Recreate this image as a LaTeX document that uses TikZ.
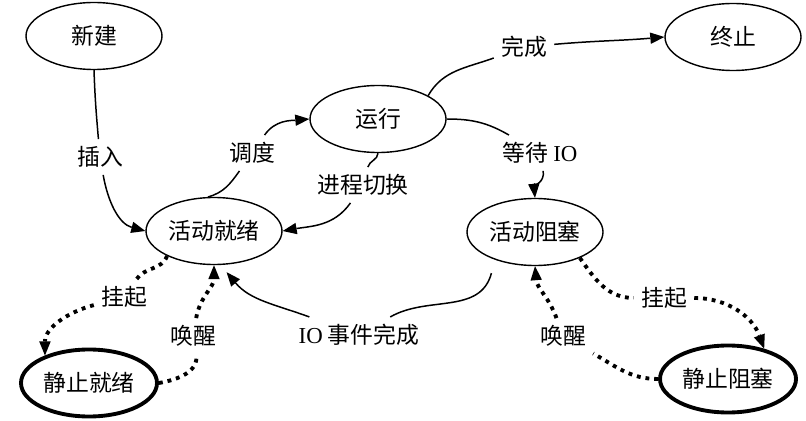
\documentclass[tikz,border=0pt]{standalone}
\usepackage{fontspec}
\setmainfont{Liberation Serif}
\newfontfamily\cjk{Noto Sans CJK SC}
\usetikzlibrary{shapes.geometric, arrows.meta}
\tikzstyle{stateBox} = [shape=ellipse, draw=black, text=black, line width=0.8pt,
	align=center, fill=white, inner sep=0pt, font=\fontsize{13}{15}\selectfont\cjk]
\tikzstyle{StateBox} = [stateBox, minimum width=2.72cm, minimum height=1.34cm]
\tikzstyle{StaticBox} = [StateBox, line width=2.2pt]
\tikzstyle{edgeLabel} = [text=black, inner sep=4pt, font=\fontsize{13}{15}\selectfont\cjk]
\tikzstyle{normalLine} = [line width=0.85pt]
\tikzstyle{dotLine} = [line width=2.2pt, dash pattern=on 2.2pt off 2.8pt]
\tikzstyle{tipLine} = [-{Triangle[length=2.8mm, width=2.3mm, line width=0pt]}]

\begin{document}
\begin{tikzpicture}
  \useasboundingbox (0,0) rectangle (16.12,8.4);

  % states
  \node (NEW)  [StateBox]  at (1.88,7.68)  {新建};
  \node (END)  [StateBox]  at (14.66,7.66) {终止};
  \node (RUN)  [StateBox]  at (7.56,6.02)  {运行};
  \node (RDY)  [StateBox]  at (4.28,3.78)  {活动就绪};
  \node (BLK)  [StateBox]  at (10.70,3.76) {活动阻塞};
  \node (SRDY) [StaticBox] at (1.78,0.74)  {静止就绪};
  \node (SBLK) [StaticBox] at (14.56,0.82) {静止阻塞};

  % labels
  \node (Ins)   [edgeLabel] at (2.00,5.26)  {插入};
  \node (Disp)  [edgeLabel] at (5.04,5.34)  {调度};
  \node (Swap)  [edgeLabel] at (7.26,4.70)  {进程切换};
  \node (Done)  [edgeLabel] at (10.48,7.46) {完成};
  \node (Wait)  [edgeLabel] at (10.80,5.34) {等待 {\rmfamily IO}};
  \node (IoEnd) [edgeLabel] at (7.18,1.70)  {{\rmfamily IO} 事件完成};
  \node (SusL)  [edgeLabel] at (2.48,2.46)  {挂起};
  \node (WakL)  [edgeLabel] at (3.86,1.68)  {唤醒};
  \node (SusR)  [edgeLabel] at (13.28,2.44) {挂起};
  \node (WakR)  [edgeLabel] at (11.26,1.68) {唤醒};

  % solid transitions
  \draw [normalLine] (NEW.south) to[out=-88,in=95] (Ins);
  \draw [normalLine, tipLine] (Ins) to[out=-80,in=165] (RDY.west);
  \draw [normalLine] (RDY.100) to[out=15,in=-125] (Disp);
  \draw [normalLine, tipLine] (Disp) to[out=55,in=185] (RUN.west);
  \draw [normalLine] (RUN.south) to[out=-92,in=75] (Swap);
  \draw [normalLine, tipLine] (Swap) to[out=-125,in=10] (RDY.east);
  \draw [normalLine] (RUN.25) to[out=60,in=200] (Done);
  \draw [normalLine, tipLine] (Done) to[out=5,in=185] (END.west);
  \draw [normalLine] (RUN.east) to[out=0,in=150] (Wait);
  \draw [normalLine, tipLine] (Wait) to[out=-80,in=95] (BLK.north);
  \draw [normalLine] ([shift={(0.1,-0.34)}]BLK.south west) to[out=-105,in=30] (IoEnd);
  \draw [normalLine, tipLine] (IoEnd) to[out=160,in=-50] ([shift={(-0.72,-0.34)}]RDY.south east);

  % suspend and wake up
  \draw [dotLine] (RDY.208) to[out=-110,in=55] (SusL);
  \draw [dotLine, tipLine] (SusL) to[out=195,in=90] (SRDY.148);
  \draw [dotLine] (SRDY.east) to[out=10,in=-80] (WakL);
  \draw [dotLine, tipLine] (WakL) to[out=80,in=-90] (RDY.south);
  \draw [dotLine] (BLK.-30) to[out=-55,in=180] (SusR);
  \draw [dotLine, tipLine] (SusR) to[out=0,in=110] (SBLK.40);
  \draw [dotLine] (SBLK.west) to[out=180,in=-30] (WakR);
  \draw [dotLine, tipLine] (WakR) to[out=110,in=-85] (BLK.south);

\end{tikzpicture}
\end{document}
